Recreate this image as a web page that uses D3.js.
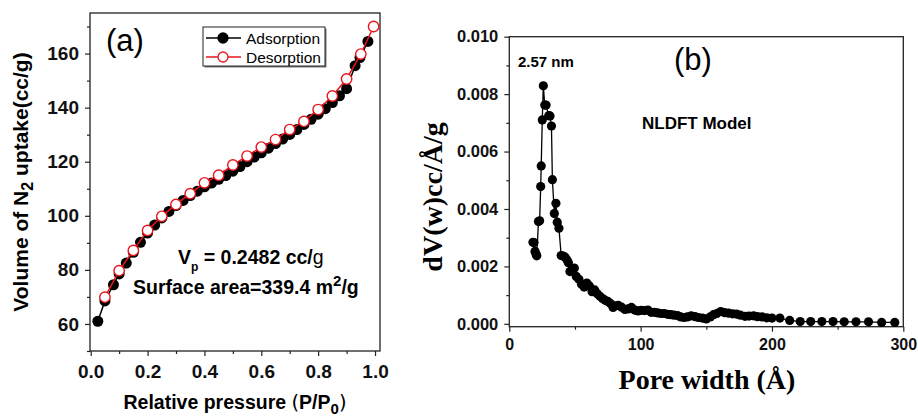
<!DOCTYPE html>
<head>
  <meta charset="utf-8">
  <title>N2 isotherm and pore size distribution</title>
  <script src="https://cdn.jsdelivr.net/npm/d3@7/dist/d3.min.js"></script>
  <style>
    body{ margin:0; background:#fff; }
    svg{ display:block; font-family:"Liberation Sans", Arial, sans-serif; }
    .tick text{ font-weight:bold; fill:#111; }
    .domain{ display:none; }
  </style>
</head>
<body>
<div id="chart"></div>
<script>
// (a) isotherm
const adsP = [0.025,0.05,0.08,0.1,0.125,0.15,0.175,0.2,0.225,0.25,0.275,0.3,0.325,0.35,0.375,0.4,0.425,0.45,0.475,0.5,0.525,0.55,0.575,0.6,0.625,0.65,0.675,0.7,0.725,0.75,0.775,0.8,0.825,0.85,0.875,0.9,0.93,0.947,0.975];
const adsV = [61,68.5,74.5,78.5,82.5,86.5,90.2,93.6,96.6,99.2,101.6,103.8,105.7,107.5,109.1,110.7,112.1,113.5,114.9,116.5,118.2,120,121.7,123.3,125,126.7,128.4,130.1,131.9,133.8,135.7,137.6,139.6,141.9,144.4,147,155.5,158.5,164.5];
const desP = [0.05,0.1,0.15,0.2,0.25,0.3,0.35,0.4,0.45,0.5,0.55,0.6,0.65,0.7,0.75,0.8,0.85,0.9,0.95,0.995];
const desV = [69.9,79.7,87.2,94.6,99.8,104.2,108.2,112.2,115,118.8,122.1,125.4,128.2,131.9,134.9,139.3,144.3,150.6,159.8,170];
const xTicksA = [0,0.2,0.4,0.6,0.8,1.0];
const yTicksA = [60,80,100,120,140,160];

// (b) pore size distribution
const poreW = [18.0,18.8,19.6,20.4,20.9,22.2,23.1,23.9,24.3,25.1,25.9,27.0,28.0,30.0,31.0,32.1,32.8,34.3,35.5,36.5,37.8,39.5,41.0,42.5,44.0,45.0,46.2,48.0,49.5,51,53,55,57,59,61,63,65,67,69,71,73,75,77,79,81,83,85.5,88,90.5,93,95.5,98,100.5,103,105.5,108,110.5,113,115.5,118,120.5,123,125.5,128,130.5,133,135.5,138.5,141.5,144,147,150,153,155.5,158,161,164,167,170,173,176,179.5,182.5,186,189,192.5,196,200,206,213.5,221.5,229.5,238,246.5,255,264,273.5,283.5,293.5];
const poreDV = [0.00284,0.00283,0.00252,0.00242,0.00237,0.00356,0.00359,0.00478,0.0055,0.0071,0.00829,0.00762,0.00762,0.00725,0.00724,0.00689,0.00502,0.00384,0.0042,0.00354,0.00333,0.00238,0.00236,0.00232,0.00222,0.00213,0.00182,0.00186,0.00194,0.00165,0.00155,0.00138,0.00128,0.00142,0.00132,0.00112,0.00118,0.00105,0.00096,0.00088,0.00082,0.00078,0.00071,0.00057,0.00063,0.00064,0.00058,0.0005,0.00052,0.00057,0.00048,0.00045,0.00047,0.00046,0.00048,0.0004,0.0004,0.00038,0.00036,0.00036,0.00033,0.00032,0.0003,0.00029,0.00024,0.00022,0.00024,0.00028,0.00025,0.00022,0.0002,0.00017,0.00024,0.00032,0.00036,0.00043,0.00039,0.00037,0.00035,0.00034,0.0003,0.00026,0.00027,0.00028,0.00025,0.00024,0.00021,0.0002,0.0002,0.00012,0.00008,0.00008,0.00008,0.00008,0.00007,0.00007,0.00007,0.00005,0.00005];
const xTicksB = [0,100,200,300];
const yTicksB = [0,0.002,0.004,0.006,0.008,0.010];

const svg = d3.select('#chart').append('svg')
  .attr('width', 918)
  .attr('height', 416);

// ---------- panel (a) ----------
const xa = d3.scaleLinear().domain([-0.0025, 1.0175]).range([90, 380]);
const ya = d3.scaleLinear().domain([50, 175]).range([351, 13]);

const ga = svg.append('g');
ga.append('g').attr('transform', 'translate(0,351)')
  .call(d3.axisBottom(xa).tickValues(d3.range(0.1, 1.01, 0.2)).tickSize(3).tickFormat(''));
ga.append('g').attr('transform', 'translate(0,351)')
  .call(d3.axisBottom(xa).tickValues(xTicksA).tickSize(5).tickPadding(9).tickFormat(d3.format('.1f')))
  .selectAll('text').style('font-size', '19px');
ga.append('g').attr('transform', 'translate(90,0)')
  .call(d3.axisLeft(ya).tickValues(d3.range(50, 176, 20)).tickSize(3).tickFormat(''));
ga.append('g').attr('transform', 'translate(90,0)')
  .call(d3.axisLeft(ya).tickValues(yTicksA).tickSize(5).tickPadding(6))
  .selectAll('text').style('font-size', '19px');
ga.selectAll('.tick line').attr('stroke', '#222').attr('stroke-width', 1.2);
ga.append('rect').attr('x', 90).attr('y', 13).attr('width', 290).attr('height', 338)
  .attr('fill', 'none').attr('stroke', '#222').attr('stroke-width', 1.3);

const ads = adsP.map((p, i) => ({p: p, v: adsV[i]}));
const des = desP.map((p, i) => ({p: p, v: desV[i]}));
const lineA = d3.line().x(d => xa(d.p)).y(d => ya(d.v));

ga.append('path').datum(ads).attr('d', lineA)
  .attr('fill', 'none').attr('stroke', '#000').attr('stroke-width', 1.5);
ga.selectAll('.ads').data(ads).enter().append('circle')
  .attr('cx', d => xa(d.p)).attr('cy', d => ya(d.v)).attr('r', 5.5).attr('fill', '#000');
ga.append('path').datum(des).attr('d', lineA)
  .attr('fill', 'none').attr('stroke', '#e8141c').attr('stroke-width', 1.5);
ga.selectAll('.des').data(des).enter().append('circle')
  .attr('cx', d => xa(d.p)).attr('cy', d => ya(d.v)).attr('r', 5.2)
  .attr('fill', '#fff').attr('stroke', '#e8141c').attr('stroke-width', 1.4);

ga.append('text').attr('x', 106).attr('y', 51).style('font-size', '31px').text('(a)');

// legend
const lg = ga.append('g');
lg.append('rect').attr('x', 204.5).attr('y', 28.5).attr('width', 122).attr('height', 39).attr('fill', '#777');
lg.append('rect').attr('x', 203).attr('y', 27).attr('width', 122).attr('height', 39)
  .attr('fill', '#fff').attr('stroke', '#222').attr('stroke-width', 1);
[['Adsorption', '#000', '#000', 38], ['Desorption', '#e8141c', '#fff', 57]].forEach(r => {
  lg.append('line').attr('x1', 206).attr('x2', 241).attr('y1', r[3]).attr('y2', r[3])
    .attr('stroke', r[1]).attr('stroke-width', 1.5);
  lg.append('circle').attr('cx', 223).attr('cy', r[3]).attr('r', 5)
    .attr('fill', r[2]).attr('stroke', r[1]).attr('stroke-width', 1.3);
  lg.append('text').attr('x', 246).attr('y', r[3] + 5.5).style('font-size', '15.5px').text(r[0]);
});

// annotation
const ann = ga.append('text').attr('x', 178).attr('y', 264)
  .style('font-size', '19.5px').style('font-weight', 'bold');
ann.append('tspan').text('V');
ann.append('tspan').attr('dy', 7).style('font-size', '12px').text('p');
ann.append('tspan').attr('dy', -7).text(' = 0.2482 cc/');
ann.append('tspan').style('font-weight', 'normal').text('g');
const ann2 = ga.append('text').attr('x', 133).attr('y', 294)
  .style('font-size', '19.5px').style('font-weight', 'bold');
ann2.append('tspan').text('Surface area=339.4 m');
ann2.append('tspan').attr('dy', -8).style('font-size', '15px').text('2');
ann2.append('tspan').attr('dy', 8).text('/g');

// axis titles
const ylA = ga.append('text').attr('transform', 'translate(28,182) rotate(-90)')
  .attr('text-anchor', 'middle').style('font-size', '21px').style('font-weight', 'bold');
ylA.append('tspan').text('Volume of N');
ylA.append('tspan').attr('dy', 5).style('font-size', '16px').text('2');
ylA.append('tspan').attr('dy', -5).text(' uptake(cc/g)');
const xlA = ga.append('text').attr('x', 235).attr('y', 409)
  .attr('text-anchor', 'middle').style('font-size', '19.5px').style('font-weight', 'bold');
xlA.append('tspan').text('Relative pressure ');
xlA.append('tspan').style('font-family', '"DejaVu Sans"').style('font-weight', 'normal').text('(');
xlA.append('tspan').text('P/P');
xlA.append('tspan').attr('dy', 5).style('font-size', '15px').text('0');
xlA.append('tspan').attr('dy', -5).style('font-family', '"DejaVu Sans"').style('font-weight', 'normal').text(')');

// ---------- panel (b) ----------
const xb = d3.scaleLinear().domain([0, 300]).range([509.3, 903.3]);
const yb = d3.scaleLinear().domain([-0.0001, 0.010]).range([326.7, 36.7]);

const gb = svg.append('g');
gb.append('g').attr('transform', 'translate(0,326.7)')
  .call(d3.axisBottom(xb).tickValues([50, 150, 250]).tickSize(3).tickFormat(''));
gb.append('g').attr('transform', 'translate(0,326.7)')
  .call(d3.axisBottom(xb).tickValues(xTicksB).tickSize(5).tickPadding(7))
  .selectAll('text').style('font-size', '16px');
gb.append('g').attr('transform', 'translate(509.3,0)')
  .call(d3.axisLeft(yb).tickValues(d3.range(0.001, 0.0100, 0.002)).tickSize(3).tickFormat(''));
gb.append('g').attr('transform', 'translate(509.3,0)')
  .call(d3.axisLeft(yb).tickValues(yTicksB).tickSize(5).tickPadding(6).tickFormat(d3.format('.3f')))
  .selectAll('text').style('font-size', '16.5px');
gb.selectAll('.tick line').attr('stroke', '#222').attr('stroke-width', 1.2);
gb.append('rect').attr('x', 509.3).attr('y', 36.7).attr('width', 394).attr('height', 290)
  .attr('fill', 'none').attr('stroke', '#222').attr('stroke-width', 1.3);

const psd = poreW.map((w, i) => ({w: w, v: poreDV[i]}));
gb.append('path').datum(psd)
  .attr('d', d3.line().x(d => xb(d.w)).y(d => yb(d.v)))
  .attr('fill', 'none').attr('stroke', '#000').attr('stroke-width', 1.3);
gb.selectAll('.psd').data(psd).enter().append('circle')
  .attr('cx', d => xb(d.w)).attr('cy', d => yb(d.v)).attr('r', 4.6).attr('fill', '#000');

gb.append('text').attr('x', 518).attr('y', 67).style('font-size', '15px').style('font-weight', 'bold').text('2.57 nm');
gb.append('text').attr('x', 674).attr('y', 70).style('font-size', '31px').text('(b)');
gb.append('text').attr('x', 642).attr('y', 129).style('font-size', '17px').style('font-weight', 'bold').text('NLDFT Model');

gb.append('text').attr('transform', 'translate(442,197) rotate(-90)')
  .attr('text-anchor', 'middle')
  .style('font-family', '"Liberation Serif", "Times New Roman", serif')
  .style('font-size', '28px').style('font-weight', 'bold')
  .text('dV(w)cc/Å/g');
gb.append('text').attr('x', 707).attr('y', 389)
  .attr('text-anchor', 'middle')
  .style('font-family', '"Liberation Serif", "Times New Roman", serif')
  .style('font-size', '28px').style('font-weight', 'bold')
  .text('Pore width (Å)');
</script>
</body>
